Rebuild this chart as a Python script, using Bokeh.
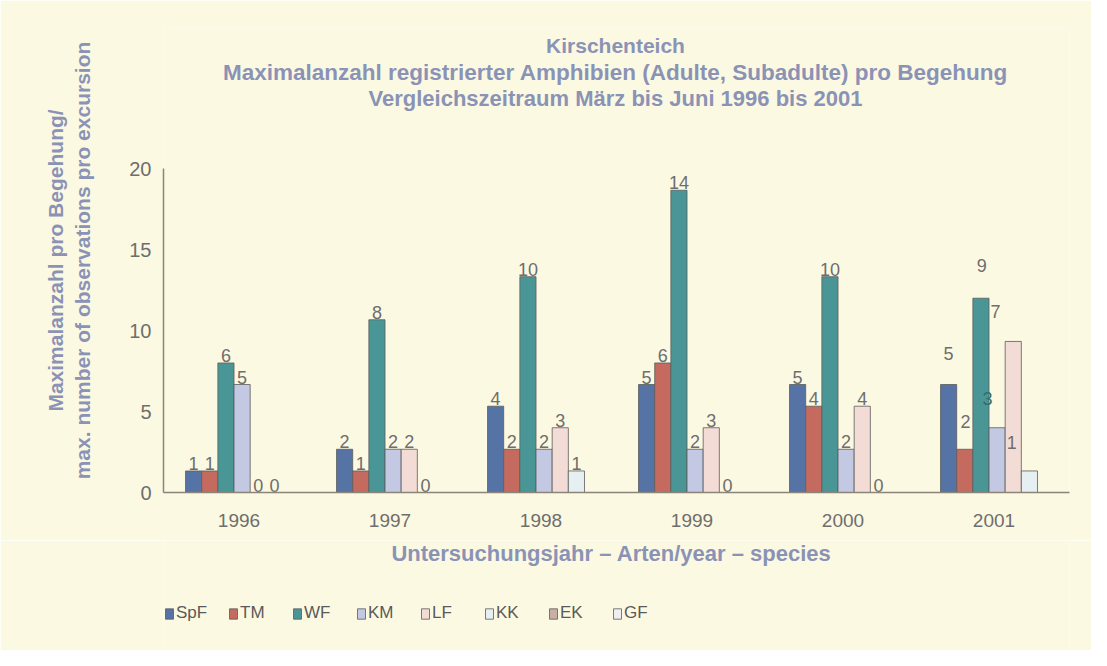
from bokeh.plotting import figure
from bokeh.layouts import column
from bokeh.models import (FactorRange, Range1d, Label, Legend, LegendItem,
                          ColumnDataSource, FixedTicker)
from bokeh.transform import dodge
from bokeh.embed import file_html
from bokeh.resources import INLINE
from bokeh.core.properties import value

# ---------------- data ----------------
years = ["1996", "1997", "1998", "1999", "2000", "2001"]
species = ["SpF", "TM", "WF", "KM", "LF", "KK", "EK", "GF"]

# bar heights as read on the y axis
spf_h = [1.33, 2.67, 5.33, 6.67, 6.67, 6.67]
tm_h = [1.33, 1.33, 2.67, 8.0, 5.33, 2.67]
wf_h = [8.0, 10.67, 13.33, 18.67, 13.33, 12.0]
km_h = [6.67, 2.67, 2.67, 2.67, 2.67, 4.0]
lf_h = [0.0, 2.67, 4.0, 4.0, 5.33, 9.33]
kk_h = [0.0, 0.0, 1.33, 0.0, 0.0, 1.33]

# value labels printed on the chart
spf_n = ["1", "2", "4", "5", "5", "5"]
tm_n = ["1", "1", "2", "6", "4", "2"]
wf_n = ["6", "8", "10", "14", "10", "9"]
km_n = ["5", "2", "2", "2", "2", "3"]
lf_n = ["0", "2", "3", "3", "4", "7"]
kk_n = ["0", "0", "1", "0", "0", "1"]

y_ticks = [0, 5, 10, 15, 20]

title_lines = ["Kirschenteich",
               "Maximalanzahl registrierter Amphibien (Adulte, Subadulte) pro Begehung",
               "Vergleichszeitraum März bis Juni 1996 bis 2001"]
y_title = ["Maximalanzahl pro Begehung/",
           "max. number of observations pro excursion"]
x_title = "Untersuchungsjahr \u2013 Arten/year \u2013 species"

# ---------------- style ----------------
colors = ["#5673a6", "#c46a5e", "#4a9696", "#c3c9e2", "#f3dcd6",
          "#e6eff1", "#c9aea6", "#efefef"]
BG = "#fcf9e2"
TITLE_C = "#8a93b6"
TEXT_C = "#6e6e6e"
AXIS_C = "#8b8478"
FONT = "Liberation Sans"
BW = 0.107
SHIFT = -0.3005  # centre of the first bar relative to category centre
Y_TOP = 28.66    # frame extends above the y axis to hold the title

heights = [spf_h, tm_h, wf_h, km_h, lf_h, kk_h]
labels = [spf_n, tm_n, wf_n, km_n, lf_n, kk_n]

# label positions in 2001 that are displaced in the original
# (year, series index) -> (bar-slot position, label centre on y axis)
label_moves = {
    ("2001", 0): (0.0, 8.6),
    ("2001", 1): (1.05, 4.4),
    ("2001", 2): (2.05, 14.0),
    ("2001", 3): (2.4, 5.8),
    ("2001", 4): (2.9, 11.2),
    ("2001", 5): (3.9, 3.1),
}

W = 1091
H_TOP, H_BOT = 540, 110

# ---------------- main chart ----------------
p = figure(x_range=FactorRange(*years, range_padding=0),
           y_range=Range1d(0, Y_TOP),
           width=W, height=H_TOP, output_backend="svg", toolbar_location=None,
           min_border_left=163, min_border_right=22,
           min_border_top=28, min_border_bottom=48)
p.title.visible = False
p.background_fill_color = BG
p.border_fill_color = BG
p.outline_line_color = None
p.grid.visible = False

p.yaxis.ticker = FixedTicker(ticks=y_ticks)
p.yaxis.bounds = (0, 20)
for ax in (p.xaxis[0], p.yaxis[0]):
    ax.axis_line_color = AXIS_C
    ax.axis_line_width = 1.5
    ax.major_tick_line_color = None
    ax.minor_tick_line_color = None
    ax.major_tick_out = 0
    ax.minor_tick_out = 0
    ax.major_label_text_font = FONT
    ax.major_label_text_color = TEXT_C
p.yaxis.major_label_text_font_size = "20px"
p.xaxis.major_label_text_font_size = "19px"
p.yaxis.major_label_standoff = 12
p.xaxis.major_label_standoff = 21

p.yaxis.axis_label = "\n".join(y_title)
p.yaxis.axis_label_text_font = FONT
p.yaxis.axis_label_text_font_style = "bold"
p.yaxis.axis_label_text_font_size = "21px"
p.yaxis.axis_label_text_color = TITLE_C
p.yaxis.axis_label_text_line_height = 1.2
p.yaxis.axis_label_standoff = 32

for j in range(6):
    off = SHIFT + BW * j
    src = ColumnDataSource(dict(x=years, top=heights[j]))
    p.vbar(x=dodge("x", off, range=p.x_range), top="top", width=BW,
           source=src, fill_color=colors[j], line_color="#5c5c5c",
           line_width=0.8)
    keep = [i for i, yv in enumerate(years) if (yv, j) not in label_moves]
    lsrc = ColumnDataSource(dict(x=[years[i] for i in keep],
                                 y=[heights[j][i] for i in keep],
                                 t=[labels[j][i] for i in keep]))
    p.text(x=dodge("x", off, range=p.x_range), y="y", text="t", source=lsrc,
           text_align="center", text_baseline="bottom", y_offset=-1,
           text_font=value(FONT), text_font_size="18px", text_color=TEXT_C)

for (yv, j), (slot, yc) in label_moves.items():
    i = years.index(yv)
    col = "#2f6f6f" if j == 3 else TEXT_C
    p.add_layout(Label(x=i + 0.5 + SHIFT + BW * slot, y=yc, text=labels[j][i],
                       text_align="center", text_baseline="middle",
                       text_font=FONT, text_font_size="18px", text_color=col))

# title lines inside the extended frame (screen px from the frame's corner)
for txt, yy, fs in zip(title_lines, [447, 420, 394], ["21px", "22.5px", "22px"]):
    p.add_layout(Label(x=452, y=yy, x_units="screen", y_units="screen",
                       text=txt, text_align="center", text_baseline="middle",
                       text_font=FONT, text_font_style="bold",
                       text_font_size=fs, text_color=TITLE_C))

# ---------------- strip with x title and legend ----------------
# (its frame is aligned with the main chart's frame by the column layout)
q = figure(width=W, height=H_BOT, x_range=Range1d(0, 906), y_range=Range1d(0, H_BOT),
           output_backend="svg", toolbar_location=None,
           min_border_left=0, min_border_right=0, min_border_top=0,
           min_border_bottom=0)
q.title.visible = False
q.axis.visible = False
q.grid.visible = False
q.outline_line_color = None
q.background_fill_color = BG
q.border_fill_color = BG

q.add_layout(Label(x=448, y=97, x_units="screen", y_units="screen",
                   text=x_title, text_align="center", text_baseline="middle",
                   text_font=FONT, text_font_style="bold",
                   text_font_size="22px", text_color=TITLE_C))

swatches = []
for j, s in enumerate(species):
    src = ColumnDataSource(dict(x=[0], top=[0]))
    swatches.append(q.vbar(x="x", top="top", width=0, source=src,
                           fill_color=colors[j], line_color="#5c5c5c",
                           line_width=0.8))

legend = Legend(items=[LegendItem(label=s, renderers=[r])
                       for s, r in zip(species, swatches)],
                location=(1, 27), orientation="horizontal",
                glyph_width=10, glyph_height=13, label_width=40,
                label_standoff=2, spacing=12, padding=0, margin=0,
                background_fill_alpha=0, border_line_color=None,
                label_text_font=FONT, label_text_font_size="17px",
                label_text_color="#5a5a5a")
q.add_layout(legend)

layout = column(p, q, spacing=0)
open("out.html", "w").write(file_html(layout, INLINE))
